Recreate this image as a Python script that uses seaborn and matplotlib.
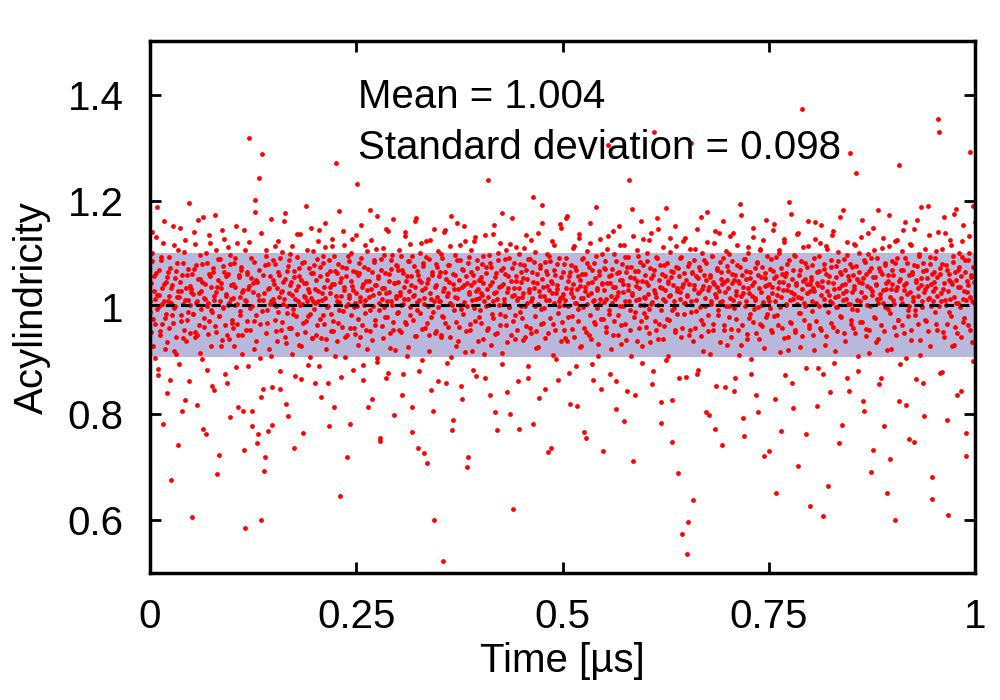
import numpy as np
import pandas as pd
import matplotlib
matplotlib.use("Agg")
import matplotlib.pyplot as plt
import seaborn as sns

# Acylindricity samples (x 1000), read block by block along the time axis.
# Two interleaved runs of samples (even / odd time steps).
acyl_milli_a = [
    1012, 953, 1087, 1141, 978, 1031, 905, 1064, 996, 1188, 872, 1023, 947, 1095, 1006, 968, 1120, 1043, 921, 988,
    1057, 839, 1011, 962, 1074, 676, 1036, 985, 1152, 917, 1002, 1069, 944, 1019, 1108, 893, 1047, 975, 1031, 806,
    1083, 958, 1014, 1127, 936, 1061, 991, 862, 1040, 1005,
    1034, 605, 987, 1072, 1119, 953, 1008, 947, 1165, 1026, 914, 1053, 996, 1081, 771, 1017, 963, 1044, 1102, 882,
    1009, 975, 1136, 1058, 928, 991, 1067, 844, 1022, 1174, 954, 1038, 1091, 983, 723, 1012, 1046, 938, 1077, 999,
    1128, 967, 1025, 857, 1063, 1004, 941, 1099, 1015, 976,
    1018, 962, 1084, 1039, 887, 1006, 1121, 948, 1057, 993, 1070, 912, 1029, 805, 1146, 585, 1011, 974, 1063, 1035,
    1318, 958, 1092, 1003, 776, 1045, 921, 1180, 986, 1051, 744, 1023, 1243, 968, 832, 600, 1289, 1013, 693, 1079,
    952, 1107, 994, 768, 1036, 1059, 909, 1012, 851, 1088,
    1043, 977, 1115, 1002, 936, 1066, 1019, 881, 1093, 958, 1031, 1007, 1162, 945, 1054, 819, 990, 1078, 1026, 962,
    1101, 1048, 913, 997, 1069, 735, 1015, 983, 1137, 1040, 929, 1059, 1004, 866, 1083, 971, 1022, 1046, 954, 1191,
    1011, 892, 1035, 1074, 988, 1017, 942, 1106, 1064, 997,
    1008, 1052, 967, 1124, 1031, 889, 1076, 943, 1014, 1097, 985, 1039, 1158, 921, 1062, 1001, 858, 1088, 1027, 956,
    1043, 1116, 974, 812, 1069, 1271, 1012, 937, 1081, 995, 645, 1056, 1021, 963, 1144, 1038, 906, 1002, 1073, 948,
    1097, 1018, 780, 1050, 985, 1129, 1033, 961, 1008, 1067,
    1026, 1231, 978, 1064, 1012, 945, 1093, 1038, 864, 1005, 1117, 989, 1049, 921, 1072, 1019, 1183, 956, 1034, 827,
    1003, 1085, 967, 1041, 1110, 898, 1058, 994, 1026, 749, 1070, 1015, 942, 1099, 1037, 981, 1147, 1011, 876, 1063,
    1029, 952, 1088, 1004, 1166, 973, 1045, 919, 1021, 1078,
    1047, 991, 1108, 1023, 953, 1071, 1006, 874, 1039, 1134, 968, 1059, 1015, 926, 1087, 1001, 1042, 812, 1097, 977,
    1024, 1163, 946, 1068, 1010, 735, 1052, 989, 1121, 1033, 901, 1077, 1017, 962, 1094, 708, 1045, 1003, 948, 1126,
    1016, 845, 1061, 991, 600, 1038, 1082, 955, 1020, 1105,
    1012, 1066, 948, 1101, 983, 523, 1037, 1145, 971, 1054, 896, 1026, 1080, 944, 1009, 1172, 770, 1043, 995, 1061,
    1019, 927, 1088, 1034, 963, 1117, 1005, 852, 1072, 988, 1041, 1153, 916, 1059, 1002, 719, 1095, 1028, 957, 1066,
    1013, 883, 1047, 1124, 974, 1031, 1089, 936, 1018, 1052,
    994, 1057, 1023, 940, 1096, 1011, 867, 1075, 1035, 962, 1240, 1004, 1083, 929, 1048, 1137, 979, 1026, 803, 1064,
    1015, 951, 1102, 1039, 987, 1071, 1178, 914, 1044, 1008, 1090, 966, 1029, 841, 1058, 1001, 1119, 947, 1073, 1022,
    620, 1036, 985, 1113, 1050, 958, 1017, 772, 1081, 1003,
    1047, 1019, 938, 1079, 1002, 1136, 965, 1053, 889, 1028, 1091, 1011, 951, 1066, 1207, 1036, 984, 1104, 923, 1045,
    1007, 829, 1074, 1021, 969, 1158, 1038, 998, 1085, 943, 1014, 1062, 728, 1032, 1097, 979, 1050, 1125, 911, 1009,
    1071, 958, 1026, 1041, 863, 1093, 1003, 1018, 1149, 972,
    1025, 958, 1081, 1013, 1168, 937, 1049, 1002, 876, 1067, 1034, 983, 1112, 1020, 945, 1076, 1009, 815, 1058, 996,
    1131, 1040, 927, 1063, 1017, 1092, 962, 1031, 754, 1084, 1006, 1045, 948, 1121, 1027, 893, 1070, 1011, 972, 1056,
    1189, 999, 1037, 931, 1068, 1015, 847, 1100, 1043, 978,
    1033, 1072, 954, 1016, 1109, 1305, 987, 1046, 921, 1061, 1008, 1143, 975, 1039, 862, 1087, 1022, 948, 1066, 1003,
    1118, 967, 1051, 1029, 786, 1095, 1012, 939, 1075, 1041, 1240, 994, 1057, 908, 1023, 1134, 981, 1068, 835, 1014,
    1049, 1096, 962, 1036, 1005, 1162, 927, 1079, 1020, 989,
    1018, 963, 1087, 1042, 997, 1126, 934, 1055, 1010, 881, 1330, 1071, 1026, 957, 1093, 1004, 1148, 968, 1039, 822,
    1062, 1015, 941, 1080, 1033, 1187, 978, 1049, 909, 1021, 1104, 1057, 995, 746, 1067, 1012, 953, 1116, 1036, 987,
    1074, 868, 1028, 1095, 961, 573, 1043, 1009, 1130, 1052,
    536, 1024, 596, 1083, 958, 1308, 1012, 1066, 937, 1041, 1110, 993, 1058, 875, 1027, 1075, 1001, 946, 1170, 1034,
    968, 1089, 1017, 803, 1052, 1123, 985, 1038, 912, 1061, 1007, 1096, 957, 1044, 1144, 772, 1019, 1070, 994, 1031,
    1085, 934, 1053, 1012, 1162, 966, 1047, 851, 1003, 1078,
    1036, 981, 1101, 1017, 944, 1063, 1140, 999, 1052, 867, 1023, 1079, 958, 1045, 1008, 1194, 930, 1061, 1026, 791,
    1090, 1003, 1069, 949, 1114, 1037, 980, 1056, 902, 1021, 1132, 973, 1047, 1014, 835, 1083, 1000, 1060, 941, 1107,
    1029, 964, 1075, 1010, 720, 1055, 1165, 987, 1042, 1019,
    1044, 998, 1091, 1027, 953, 1068, 1157, 1011, 650, 1059, 985, 1036, 1103, 916, 1074, 1020, 962, 1047, 1128, 873,
    1005, 1065, 1032, 944, 1088, 1013, 1176, 970, 1054, 811, 1025, 1097, 958, 1041, 1006, 1139, 989, 1071, 926, 1018,
    1372, 1050, 977, 1084, 1002, 762, 1043, 1115, 966, 1031,
    626, 1057, 1012, 948, 1093, 1030, 1161, 975, 1046, 886, 1069, 1003, 1121, 957, 1038, 607, 1081, 1015, 930, 1062,
    1109, 992, 1048, 1024, 841, 1076, 1009, 963, 1143, 1035, 918, 1057, 1000, 1087, 1021, 744, 1066, 982, 1042, 1183,
    1013, 951, 1071, 1030, 868, 1098, 1006, 1052, 1290, 977,
    1028, 1076, 961, 1040, 1118, 1252, 995, 1053, 908, 1067, 1011, 1132, 973, 1045, 823, 1089, 1019, 946, 1062, 1004,
    1101, 958, 1036, 1074, 691, 1024, 1150, 982, 1057, 934, 1041, 1093, 1008, 855, 1068, 1017, 967, 1112, 1032, 776,
    1079, 1001, 1046, 920, 1061, 1173, 989, 714, 1035, 1087,
    1014, 963, 1084, 600, 1033, 1127, 976, 1268, 1050, 893, 1070, 1008, 1145, 951, 1041, 1092, 817, 1025, 984, 1061,
    1003, 1119, 938, 1066, 1020, 747, 1079, 995, 1048, 1164, 969, 1037, 1101, 911, 1056, 1012, 1083, 858, 1029, 976,
    1071, 1040, 1190, 956, 1017, 1095, 1002, 681, 1063, 1030,
    1047, 991, 1106, 1022, 958, 1354, 1330, 1063, 1011, 878, 1082, 1035, 944, 1139, 1005, 1071, 969, 609, 1052, 1016,
    1118, 983, 1044, 1097, 929, 1066, 1009, 1185, 951, 1038, 1075, 1000, 842, 1059, 1124, 972, 1031, 1088, 1013, 763,
    1049, 966, 1102, 1292, 1020, 1057, 935, 1076, 1008, 1160,
]

acyl_milli_b = [
    991, 1046, 1103, 927, 1058, 1015, 968, 1132, 1024, 884, 1071, 1002, 955, 1089, 1037, 781, 1012, 1163, 979, 1048,
    934, 1066, 1021, 1095, 863, 1008, 1042, 971, 1117, 998, 1056, 912, 1083, 1030, 742, 1019, 1149, 985, 1061, 943,
    1007, 1104, 825, 1037, 976, 1072, 1013, 1196, 952, 1028,
    1063, 987, 1025, 1142, 944, 1079, 817, 1011, 1054, 966, 1098, 1031, 903, 1047, 1169, 979, 1016, 761, 1084, 1003,
    949, 1062, 1120, 995, 1038, 852, 1074, 1013, 964, 1107, 1029, 686, 1052, 983, 1091, 1036, 928, 1145, 1000, 1067,
    875, 1022, 1058, 947, 1113, 1009, 794, 1081, 1041, 970,
    1044, 928, 1092, 1005, 1153, 969, 813, 1061, 1020, 985, 1076, 947, 1033, 732, 1108, 1014, 957, 1067, 889, 1040,
    1123, 998, 1055, 806, 1029, 974, 1086, 1201, 936, 1048, 761, 1013, 1070, 905, 1139, 993, 846, 1060, 1026, 718,
    1097, 971, 1035, 1081, 922, 1007, 1166, 779, 1052, 1016,
    1009, 1082, 956, 1037, 1125, 991, 1060, 847, 1028, 1104, 972, 1047, 1015, 1178, 933, 1069, 1003, 795, 1088, 1042,
    961, 1116, 1024, 988, 1057, 871, 1033, 1095, 950, 1011, 1073, 1138, 927, 1051, 1006, 763, 1086, 1019, 975, 1045,
    1107, 984, 1029, 906, 1064, 1150, 942, 1012, 1079, 858,
    1035, 947, 1091, 1012, 1146, 978, 1059, 832, 1026, 1083, 969, 1017, 1114, 941, 1052, 1003, 776, 1069, 1038, 987,
    1129, 955, 1044, 1097, 908, 1021, 1065, 970, 1181, 1010, 1047, 869, 1075, 993, 1032, 1118, 945, 1058, 719, 1006,
    1087, 1024, 961, 1103, 1040, 883, 1068, 1001, 950, 1135,
    1002, 1061, 929, 1084, 1019, 1155, 966, 1043, 891, 1076, 1013, 958, 1106, 1032, 812, 1049, 995, 1127, 1067, 938,
    1023, 1088, 977, 1041, 1172, 904, 1056, 1008, 754, 1091, 1037, 964, 1112, 1000, 1064, 867, 1027, 982, 1143, 1050,
    924, 1072, 1011, 1098, 957, 797, 1046, 1018, 1080, 989,
    1071, 958, 1029, 1096, 1005, 836, 1064, 1016, 1142, 973, 1050, 909, 1087, 1030, 985, 1119, 1058, 766, 1022, 1077,
    946, 1039, 1168, 994, 1061, 881, 1014, 1103, 1047, 959, 1083, 1006, 727, 1036, 1125, 970, 1054, 918, 1090, 1027,
    982, 1066, 805, 1012, 1148, 951, 1041, 1076, 1000, 862,
    1058, 1011, 944, 1093, 1030, 982, 1141, 1066, 857, 1021, 1079, 963, 1047, 1116, 907, 1004, 1062, 789, 1035, 1099,
    973, 1017, 1158, 936, 1052, 1088, 996, 1039, 828, 1071, 1010, 1124, 955, 1046, 700, 1083, 1025, 968, 1107, 1042,
    917, 1060, 998, 1133, 1015, 871, 1074, 1034, 981, 1052,
    1027, 971, 1081, 1046, 912, 1135, 1003, 1064, 958, 1019, 1098, 835, 1042, 1076, 987, 1011, 1154, 949, 1057, 1028,
    770, 1089, 1005, 967, 1121, 1040, 893, 1073, 1016, 983, 1062, 1107, 934, 1036, 1092, 1001, 799, 1049, 1168, 975,
    1024, 1084, 940, 1058, 1013, 862, 1100, 1037, 991, 1066,
    979, 1055, 1026, 1112, 944, 1070, 1008, 868, 1091, 1035, 962, 1127, 1017, 1048, 781, 1085, 1002, 956, 1063, 1140,
    925, 1031, 1079, 997, 1054, 1193, 971, 1022, 846, 1068, 1040, 1101, 952, 1013, 1087, 736, 1045, 1026, 969, 1118,
    1060, 903, 1034, 1082, 990, 1011, 1156, 937, 1057, 1019,
    1066, 1004, 943, 1093, 1037, 1172, 981, 1058, 819, 1026, 1080, 960, 1043, 1115, 1009, 889, 1071, 1034, 975, 1137,
    1051, 926, 1018, 1090, 1000, 765, 1062, 1039, 953, 1105, 1023, 1076, 986, 1158, 941, 1047, 863, 1083, 1014, 969,
    1096, 1032, 908, 1061, 1007, 1129, 978, 1045, 730, 1074,
    1010, 1087, 963, 1046, 1134, 995, 1059, 874, 1021, 1072, 947, 1038, 1101, 1016, 808, 1064, 1029, 985, 1153, 1051,
    931, 1081, 1003, 1044, 1118, 969, 1067, 842, 1033, 1094, 1012, 958, 1075, 1185, 1027, 711, 1056, 991, 1040, 1108,
    937, 1069, 1015, 1086, 974, 1049, 896, 1128, 1004, 1061,
    1048, 982, 1102, 1025, 951, 1073, 1140, 1006, 855, 1061, 1033, 974, 1095, 1019, 1167, 940, 1052, 1080, 994, 783,
    1037, 1113, 965, 1058, 1012, 901, 1084, 1046, 977, 1131, 1023, 1068, 825, 1041, 999, 1152, 957, 1075, 1030, 688,
    1059, 1016, 1093, 944, 1039, 1124, 987, 1064, 1008, 869,
    1021, 1078, 948, 1043, 1110, 992, 1065, 637, 1035, 1089, 962, 1014, 1147, 1056, 883, 1029, 1071, 976, 1102, 1040,
    917, 1061, 1003, 1084, 1180, 955, 1032, 798, 1057, 1011, 1096, 969, 1048, 1121, 1025, 853, 1074, 1038, 985, 1139,
    1010, 1067, 741, 1044, 1093, 957, 1028, 1106, 1052, 930,
    1069, 1002, 1134, 959, 1045, 1087, 1014, 842, 1060, 1031, 978, 1118, 1049, 911, 1076, 1022, 1173, 966, 1038, 759,
    1091, 1011, 1054, 940, 1103, 1027, 987, 1066, 874, 1042, 1150, 996, 1073, 1018, 952, 1085, 803, 1036, 1110, 968,
    1057, 1005, 1127, 923, 1064, 1040, 982, 1096, 1017, 730,
    1011, 1072, 958, 1039, 1146, 983, 1055, 828, 1094, 1024, 967, 1108, 1047, 1000, 768, 1063, 1033, 943, 1123, 1058,
    1006, 1082, 919, 1041, 1197, 972, 1028, 858, 1070, 1015, 1099, 954, 1046, 1137, 1019, 702, 1061, 990, 1087, 1034,
    946, 1114, 1009, 1053, 886, 1075, 1027, 1162, 961, 1043,
    1052, 993, 1080, 1037, 920, 1128, 1008, 1066, 814, 1041, 1097, 961, 1023, 1155, 1049, 875, 1072, 1004, 946, 1116,
    1030, 664, 1059, 1012, 1088, 971, 1135, 1045, 896, 1019, 1077, 1001, 955, 1104, 1036, 1170, 984, 1063, 779, 1027,
    1091, 1044, 937, 1015, 1122, 1058, 843, 1006, 1081, 968,
    997, 1061, 1034, 1119, 951, 1078, 1013, 881, 1047, 1102, 972, 1029, 1164, 1055, 805, 1020, 1086, 960, 1040, 1139,
    914, 1068, 1003, 1093, 1031, 732, 1057, 1107, 979, 1044, 1016, 1182, 940, 1074, 1025, 868, 1062, 1008, 1131, 956,
    1083, 1035, 650, 1049, 997, 1115, 1019, 922, 1071, 1043,
    1060, 1007, 1125, 948, 1039, 1093, 977, 823, 1054, 1018, 1106, 966, 1071, 1032, 1160, 905, 1046, 1084, 995, 752,
    1029, 1117, 958, 1063, 1011, 1148, 986, 1052, 865, 1077, 1022, 1097, 939, 1041, 1188, 1000, 1068, 796, 1035, 1109,
    974, 1056, 1015, 1135, 928, 1082, 1043, 640, 1012, 1066,
    1036, 1092, 968, 1057, 1141, 1003, 877, 1074, 1026, 1110, 954, 1045, 1169, 1013, 1080, 788, 1031, 1062, 992, 1127,
    1048, 927, 1085, 1020, 1176, 963, 1051, 836, 1070, 1009, 1103, 1039, 945, 1094, 1016, 1155, 980, 1067, 721, 1028,
    1088, 1041, 1134, 958, 1061, 1012, 1191, 899, 1047, 1078,
]

mean_value = 1.004
std_value = 0.098
x_ticks = [0, 0.25, 0.5, 0.75, 1]
x_tick_labels = ["0", "0.25", "0.5", "0.75", "1"]
y_ticks = [0.6, 0.8, 1.0, 1.2, 1.4]
y_tick_labels = ["0.6", "0.8", "1", "1.2", "1.4"]

acyl = np.column_stack((acyl_milli_a, acyl_milli_b)).ravel() / 1000.0
time_us = np.linspace(0, 1, len(acyl))  # samples evenly spaced in time
df = pd.DataFrame({"time": time_us, "acyl": acyl})

sns.set_theme(style="ticks")
plt.rcParams["font.family"] = ["Liberation Sans", "DejaVu Sans"]
plt.rcParams["text.color"] = "black"
plt.rcParams["axes.labelcolor"] = "black"

fig = plt.figure(figsize=(10, 7), dpi=100)
ax = fig.add_axes([0.150, 0.181, 0.825, 0.760])

# band of +/- one standard deviation
ax.axhspan(mean_value - std_value, mean_value + std_value, color="#b8b8dc", zorder=1, lw=0)

sns.scatterplot(data=df, x="time", y="acyl", color="#ff0000", s=12, linewidth=0,
                ax=ax, zorder=2, legend=False)

ax.axhline(mean_value, color="black", linestyle=(0, (3, 2)), linewidth=2.2, zorder=3)

ax.text(0.252, 1.395, f"Mean = {mean_value:.3f}", fontsize=29, va="center", ha="left",
        color="black", zorder=4)
ax.text(0.252, 1.299, f"Standard deviation = {std_value:.3f}", fontsize=29, va="center",
        ha="left", color="black", zorder=4)

ax.set_xlim(0, 1)
ax.set_ylim(0.5, 1.5)
ax.set_xticks(x_ticks)
ax.set_xticklabels(x_tick_labels)
ax.set_yticks(y_ticks)
ax.set_yticklabels(y_tick_labels)
ax.set_xlabel("Time [µs]", fontsize=29, labelpad=4)
ax.set_ylabel("Acylindricity", fontsize=29, labelpad=12)

ax.tick_params(direction="in", length=8, width=2, labelsize=29,
               top=True, right=True, colors="black")
ax.tick_params(axis="y", pad=19)
ax.tick_params(axis="x", pad=18)
for sp in ax.spines.values():
    sp.set_linewidth(2.5)
    sp.set_color("black")

fig.savefig("out.png", dpi=100)
